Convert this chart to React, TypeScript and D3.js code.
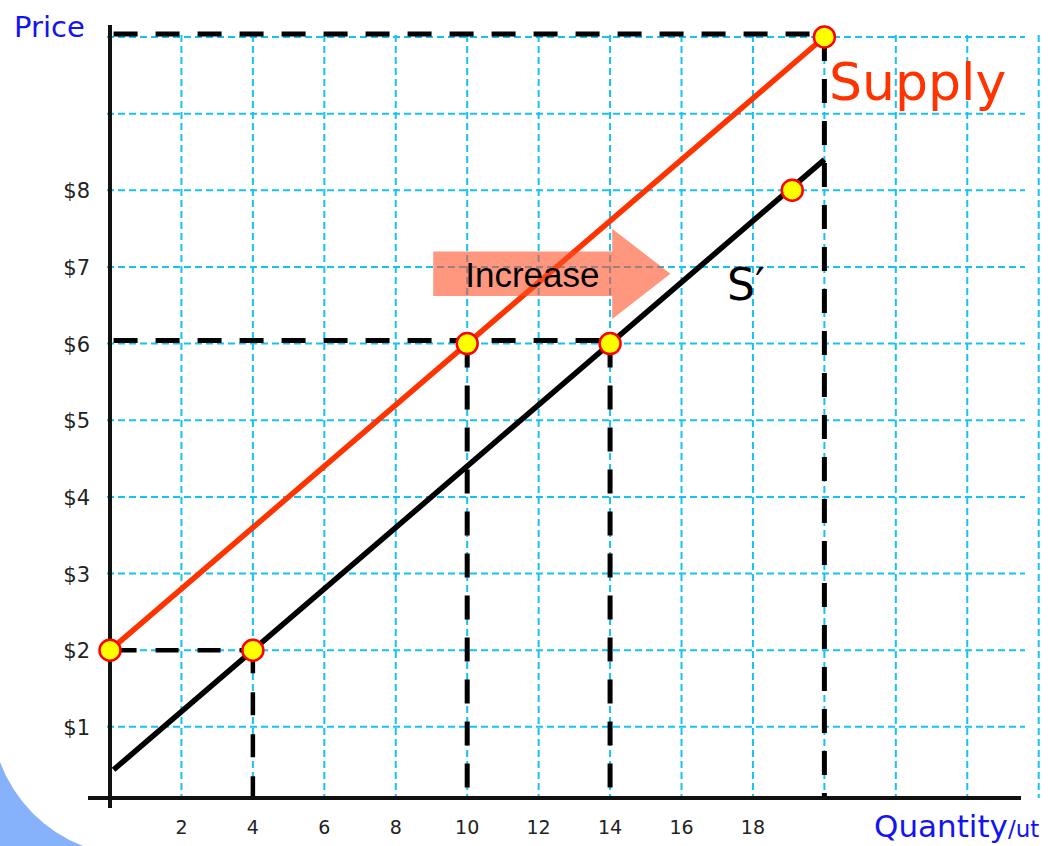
import React from "react";
import * as d3 from "d3";

// ---- data ----
const xTickValues = [2, 4, 6, 8, 10, 12, 14, 16, 18];
const yTickValues = [1, 2, 3, 4, 5, 6, 7, 8];
const yTickLabels = ["$1", "$2", "$3", "$4", "$5", "$6", "$7", "$8"];
const gridXValues = [2, 4, 6, 8, 10, 12, 14, 16, 18, 20, 22, 24, 26];
const gridYValues = [1, 2, 3, 4, 5, 6, 7, 8, 9, 10];

const supplyQ = [0, 20];
const supplyP = [2, 10];
const sPrimeQ = [0.1, 20];
const sPrimeP = [0.44, 8.4];

const pointQ = [0, 10, 20, 4, 14, 19.1];
const pointP = [2, 6, 10, 2, 6, 8];

// guide lines: [q1, p1, q2, p2]
const guideThick: number[][] = [
  [0.1, 10, 20, 10],
  [20, 10, 20, 0],
  [0.1, 6, 14, 6],
  [10, 6, 10, 0],
  [14, 6, 14, 0],
];
const guideThin: number[][] = [
  [0.1, 2, 4, 2],
  [4, 2, 4, 0],
];

// arrow (data units)
const arrowBodyQ = [9.05, 14.06];
const arrowBodyP = [7.2, 6.62];
const arrowHeadP = [7.5, 6.32];
const arrowTipQ = 15.69;

export default function App() {
  const width = 1051;
  const height = 846;
  const x = d3.scaleLinear().domain([0, 26]).range([110, 1038.7]);
  const y = d3.scaleLinear().domain([0, 10]).range([803.5, 37]);
  const axisY = 798;

  const line = d3
    .line<[number, number]>()
    .x((d) => x(d[0]))
    .y((d) => y(d[1]));

  const supplyData = supplyQ.map((q, i) => [q, supplyP[i]] as [number, number]);
  const sPrimeData = sPrimeQ.map((q, i) => [q, sPrimeP[i]] as [number, number]);

  const clampY = (p: number) => (p === 0 ? axisY : y(p));

  const arrowPts: [number, number][] = [
    [x(arrowBodyQ[0]), y(arrowBodyP[0])],
    [x(arrowBodyQ[1]), y(arrowBodyP[0])],
    [x(arrowBodyQ[1]), y(arrowHeadP[0])],
    [x(arrowTipQ), (y(arrowHeadP[0]) + y(arrowHeadP[1])) / 2],
    [x(arrowBodyQ[1]), y(arrowHeadP[1])],
    [x(arrowBodyQ[1]), y(arrowBodyP[1])],
    [x(arrowBodyQ[0]), y(arrowBodyP[1])],
  ];

  return (
    <svg
      width={width}
      height={height}
      style={{ position: "absolute", left: 0, top: 0, background: "#fff" }}
    >
      {/* decorative blue corner */}
      <path d="M0,762 A144,144 0 0 0 83,846 L0,846 Z" fill="#86b1fb" />

      {/* grid */}
      <g stroke="#14c3f3" strokeWidth={2} strokeDasharray="7,4">
        {gridYValues.map((v) => (
          <line key={"gy" + v} x1={107} x2={1025} y1={y(v)} y2={y(v)} />
        ))}
        {gridXValues.map((v) => (
          <line key={"gx" + v} x1={x(v)} x2={x(v)} y1={y(10) - 2} y2={axisY} />
        ))}
      </g>

      {/* guide dashed lines */}
      <g stroke="#000" strokeWidth={5} strokeDasharray="24,18" fill="none">
        {guideThick.map((g, i) => (
          <line
            key={"gt" + i}
            x1={x(g[0])}
            y1={clampY(g[1]) - (g[1] === g[3] ? 3 : 0)}
            x2={x(g[2])}
            y2={clampY(g[3]) - (g[1] === g[3] ? 3 : 0)}
          />
        ))}
      </g>
      <g stroke="#000" strokeWidth={4.5} strokeDasharray="23,19" fill="none">
        {guideThin.map((g, i) => (
          <line
            key={"gn" + i}
            x1={x(g[0])}
            y1={clampY(g[1])}
            x2={x(g[2])}
            y2={clampY(g[3])}
          />
        ))}
      </g>

      {/* axes */}
      <line x1={110} x2={110} y1={25} y2={808} stroke="#111" strokeWidth={4} />
      <line x1={88} x2={1021} y1={axisY} y2={axisY} stroke="#111" strokeWidth={4} />

      {/* curves */}
      <path d={line(sPrimeData) || ""} stroke="#000" strokeWidth={5.5} fill="none" />
      <path d={line(supplyData) || ""} stroke="#ff3300" strokeWidth={5.5} fill="none" />

      {/* arrow */}
      <polygon
        points={arrowPts.map((p) => p.join(",")).join(" ")}
        fill="#ff5028"
        fillOpacity={0.6}
      />
      <text
        x={x(arrowBodyQ[0]) + 32}
        y={287}
        fontFamily="Liberation Sans, Arial, sans-serif"
        fontSize={35}
        fill="#000"
      >
        Increase
      </text>

      {/* points */}
      {pointQ.map((q, i) => (
        <circle
          key={"pt" + i}
          cx={x(q)}
          cy={y(pointP[i])}
          r={10.5}
          fill="#ffff00"
          stroke="#ff0000"
          strokeWidth={2.5}
        />
      ))}

      {/* tick labels */}
      <g fontFamily="DejaVu Sans, sans-serif" fontSize={21} fill="#222">
        {yTickValues.map((v, i) => (
          <text key={"yt" + v} x={90} y={y(v) + 8} textAnchor="end">
            {yTickLabels[i]}
          </text>
        ))}
      </g>
      <g fontFamily="DejaVu Sans, sans-serif" fontSize={19} fill="#222">
        {xTickValues.map((v) => (
          <text key={"xt" + v} x={x(v)} y={834} textAnchor="middle">
            {v}
          </text>
        ))}
      </g>

      {/* labels */}
      <text x={14} y={37} fontFamily="DejaVu Sans, Verdana, sans-serif" fontSize={29} fill="#1414f0">
        Price
      </text>
      <text x={874} y={837} fontFamily="DejaVu Sans, Verdana, sans-serif" fill="#1414f0">
        <tspan fontSize={31}>Quantity</tspan>
        <tspan fontSize={23}>/ut</tspan>
      </text>
      <text x={829} y={100} fontFamily="DejaVu Sans, Verdana, sans-serif" fontSize={52} fill="#ff3300">
        Supply
      </text>
      <text x={727} y={300} fontFamily="DejaVu Sans, Verdana, sans-serif" fontSize={44} fill="#000">
        S′
      </text>
    </svg>
  );
}
